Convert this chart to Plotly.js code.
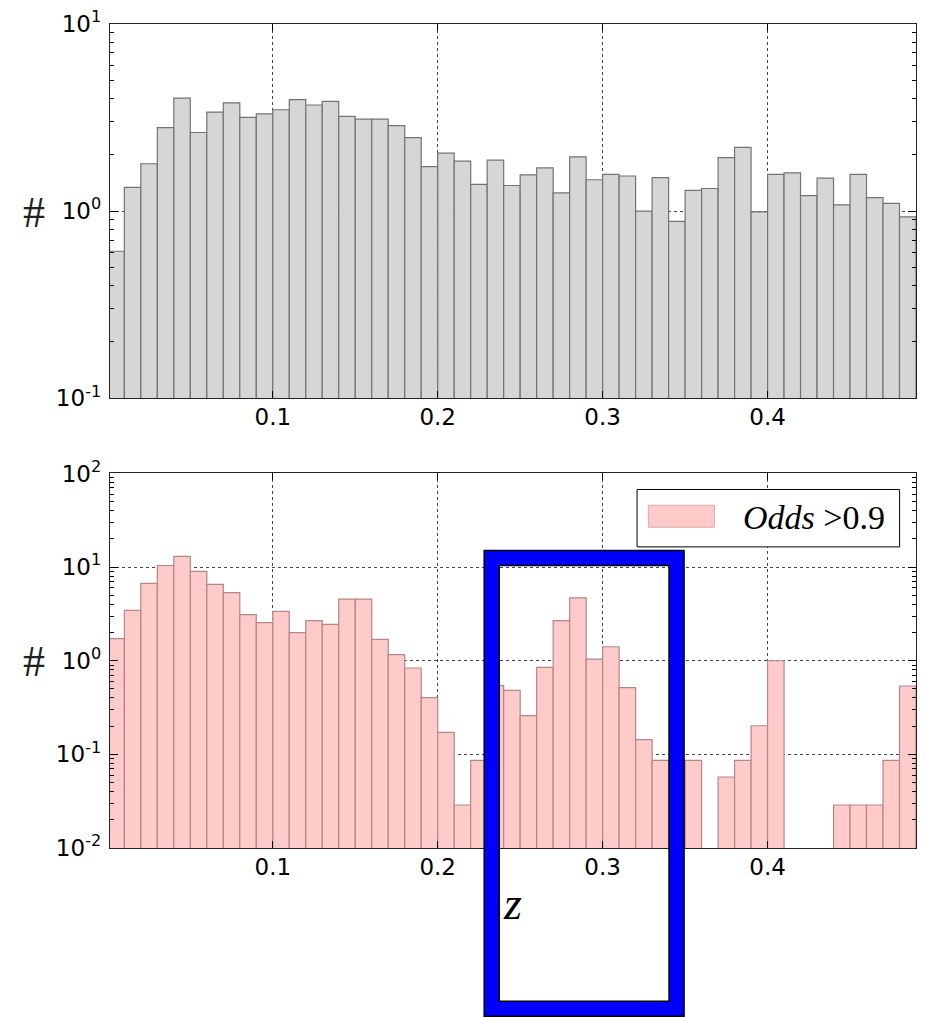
<!DOCTYPE html>
<html>
<head>
<meta charset="utf-8">
<script src="https://cdn.plot.ly/plotly-3.0.1.min.js"></script>
<style>
  html, body { margin: 0; padding: 0; background: #fff; }
  #chart { width: 925px; height: 1017px; }
</style>
</head>
<body>
<div id="chart"></div>
<script>
// Histogram bin left edges (z), bin width 0.01
const binLeft = [0.00,0.01,0.02,0.03,0.04,0.05,0.06,0.07,0.08,0.09,
                 0.10,0.11,0.12,0.13,0.14,0.15,0.16,0.17,0.18,0.19,
                 0.20,0.21,0.22,0.23,0.24,0.25,0.26,0.27,0.28,0.29,
                 0.30,0.31,0.32,0.33,0.34,0.35,0.36,0.37,0.38,0.39,
                 0.40,0.41,0.42,0.43,0.44,0.45,0.46,0.47,0.48];
const binWidth = 0.01;

// Top panel: all objects
const countsAll = [0.61,1.34,1.79,2.79,4.02,2.63,3.38,3.79,3.17,3.31,
                   3.48,3.94,3.69,3.86,3.21,3.10,3.10,2.86,2.47,1.73,
                   2.04,1.85,1.39,1.87,1.37,1.56,1.70,1.25,1.95,1.47,
                   1.57,1.54,1.00,1.51,0.88,1.29,1.32,1.93,2.19,0.99,
                   1.57,1.60,1.21,1.50,1.08,1.57,1.18,1.10,0.93];

// Bottom panel: Odds > 0.9
const countsOdds = [1.72,3.45,6.71,10.4,13.0,9.02,6.55,5.33,3.11,2.55,
                    3.37,2.00,2.68,2.45,4.56,4.56,1.69,1.16,0.836,0.404,
                    0.172,0.0288,0.0863,0.542,0.483,0.259,0.85,2.68,4.68,1.04,
                    1.41,0.515,0.1435,0.0863,0.0863,0.0863,0,0.0573,0.0863,0.202,
                    1.0,0,0,0,0.0288,0.0288,0.0288,0.0863,0.537];

const topTickVals = [0.1, 1, 10];
const topTickText = ['10<sup>-1</sup>','10<sup>0</sup>','10<sup>1</sup>'];
const botTickVals = [0.01, 0.1, 1, 10, 100];
const botTickText = ['10<sup>-2</sup>','10<sup>-1</sup>','10<sup>0</sup>','10<sup>1</sup>','10<sup>2</sup>'];
const xTickVals = [0.1, 0.2, 0.3, 0.4];
const xTickText = ['0.1','0.2','0.3','0.4'];
const legendLabel = '<i>Odds</i> >0.9';
const xLabel = '<i>z</i>';
const yLabel = '#';

const centers = binLeft.map(b => b + binWidth / 2);
const toLog = v => (v > 0 ? v : null);

const traceTop = {
  type: 'bar', x: centers, y: countsAll.map(toLog), width: binWidth,
  xaxis: 'x', yaxis: 'y',
  marker: { color: 'rgb(214,214,214)', line: { color: 'rgb(115,115,115)', width: 1.2 } },
  showlegend: false, hoverinfo: 'x+y'
};
const traceBot = {
  type: 'bar', x: centers, y: countsOdds.map(toLog), width: binWidth,
  xaxis: 'x2', yaxis: 'y2', name: 'Odds >0.9',
  marker: { color: 'rgb(255,202,202)', line: { color: 'rgb(180,135,135)', width: 1.2 } },
  showlegend: false, hoverinfo: 'x+y'
};

const tickFont = { family: 'DejaVu Sans', size: 23, color: '#000' };
const xRange = [0.0013, 0.49];

function xAxis(anchor) {
  return {
    anchor: anchor, domain: [0, 1], range: xRange,
    tickvals: xTickVals, ticktext: xTickText,
    ticks: 'inside', ticklen: 7, tickwidth: 1, tickcolor: '#000',
    showline: true, linecolor: '#222', linewidth: 1.2, mirror: 'allticks',
    showgrid: true, gridcolor: '#444', griddash: 'dot', gridwidth: 1,
    zeroline: false, tickfont: tickFont, ticklabelstandoff: -2
  };
}
function yAxis(anchor, domain, range, tv, tt) {
  return {
    anchor: anchor, domain: domain, type: 'log', range: range,
    tickvals: tv, ticktext: tt,
    ticks: 'inside', ticklen: 8, tickwidth: 1, tickcolor: '#000',
    minor: { ticks: 'inside', ticklen: 4, tickcolor: '#000', dtick: 'D1', showgrid: false },
    showline: true, linecolor: '#222', linewidth: 1.2, mirror: 'allticks',
    showgrid: true, gridcolor: '#444', griddash: 'dot', gridwidth: 1,
    zeroline: false, tickfont: tickFont, ticklabelstandoff: 3
  };
}

// pixel -> paper helpers for overlay decorations
const L = 109.5, R = 9.3, T = 24, B = 169.3, W = 925, H = 1017;
const pw = W - L - R, ph = H - T - B;
const px = p => (p - L) / pw;
const py = p => (H - B - p) / ph;

const layout = {
  width: W, height: H,
  margin: { l: L, r: R, t: T, b: B, pad: 0 },
  paper_bgcolor: '#fff', plot_bgcolor: '#fff',
  bargap: 0, barmode: 'overlay',
  showlegend: false,
  xaxis: xAxis('y'),
  yaxis: yAxis('x', [py(398), 1], [-1, 1], topTickVals, topTickText),
  xaxis2: xAxis('y2'),
  yaxis2: yAxis('x2', [0, py(473.3)], [-2, 2], botTickVals, botTickText),
  shapes: [
    // legend frame and patch
    { type: 'rect', xref: 'paper', yref: 'paper', layer: 'above',
      x0: px(636.7), x1: px(899.3), y0: py(546.7), y1: py(489.3),
      line: { color: '#000', width: 1 }, fillcolor: 'rgba(255,255,255,1)' },
    { type: 'rect', xref: 'paper', yref: 'paper', layer: 'above',
      x0: px(648), x1: px(714), y0: py(527), y1: py(505),
      line: { color: 'rgb(220,170,170)', width: 1 }, fillcolor: 'rgb(255,202,202)' },
    // highlight box: black outline then blue band
    { type: 'rect', xref: 'paper', yref: 'paper', layer: 'above',
      x0: px(491.3), x1: px(676.2), y0: py(1008.3), y1: py(557.8),
      line: { color: '#000', width: 16.5 }, fillcolor: 'rgba(0,0,0,0)' },
    { type: 'rect', xref: 'paper', yref: 'paper', layer: 'above',
      x0: px(491.3), x1: px(676.2), y0: py(1008.3), y1: py(557.8),
      line: { color: 'rgb(0,0,255)', width: 13.5 }, fillcolor: 'rgba(0,0,0,0)' }
  ],
  annotations: [
    { xref: 'paper', yref: 'paper', x: px(33), y: py(212), text: yLabel, showarrow: false,
      xanchor: 'center', yanchor: 'middle',
      font: { family: 'Liberation Serif', size: 44, color: '#222' } },
    { xref: 'paper', yref: 'paper', x: px(33), y: py(661), text: yLabel, showarrow: false,
      xanchor: 'center', yanchor: 'middle',
      font: { family: 'Liberation Serif', size: 44, color: '#222' } },
    { xref: 'paper', yref: 'paper', x: px(512), y: py(903), text: xLabel, showarrow: false,
      xanchor: 'center', yanchor: 'middle',
      font: { family: 'Liberation Serif', size: 46, color: '#000' } },
    { xref: 'paper', yref: 'paper', x: px(887), y: py(517), text: legendLabel, showarrow: false,
      xanchor: 'right', yanchor: 'middle',
      font: { family: 'Liberation Serif', size: 34, color: '#000' } }
  ]
};

Plotly.newPlot('chart', [traceTop, traceBot], layout, { displayModeBar: false, staticPlot: true });
</script>
</body>
</html>
